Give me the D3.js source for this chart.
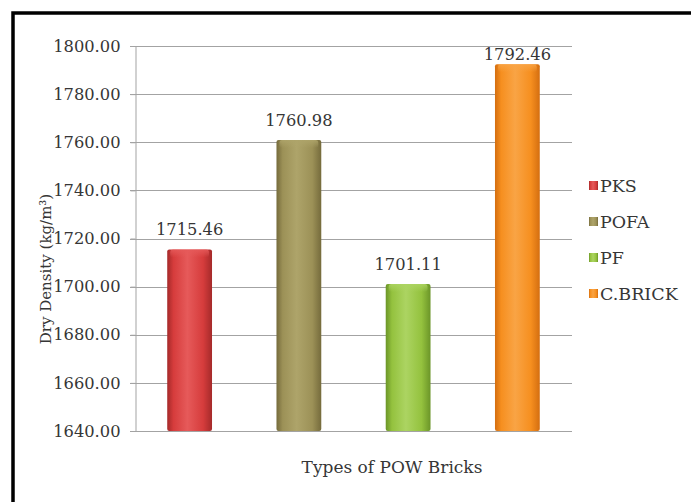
<!DOCTYPE html>
<html>
<head>
<meta charset="utf-8">
<script src="https://cdn.jsdelivr.net/npm/d3@7"></script>
<style>
  html, body { margin: 0; padding: 0; background: #fff; }
  svg { display: block; }
  text { font-family: "DejaVu Serif", "Liberation Serif", serif; fill: #363636; }
</style>
</head>
<body>
<svg id="chart" width="691" height="502"></svg>
<script>
// Dry density of the brick types
const categories = ["PKS", "POFA", "PF", "C.BRICK"];
const densities = [1715.46, 1760.98, 1701.11, 1792.46];
const yTicks = [1640, 1660, 1680, 1700, 1720, 1740, 1760, 1780, 1800];
const barColors = ["#d63c3c", "#9c9157", "#94c23e", "#f68f1f"];
const edgeColors = ["#a52a2a", "#756b3c", "#6b9528", "#d46e10"];
const lightColors = ["#e65a5a", "#aea46a", "#acd462", "#f9a445"];
const yTitle = "Dry Density (kg/m³)";
const xTitle = "Types of POW Bricks";

const svg = d3.select("#chart");
const W = 691, H = 502;

svg.append("rect").attr("width", W).attr("height", H).attr("fill", "#fff");

// outer frame
svg.append("rect")
  .attr("x", 13).attr("y", 13)
  .attr("width", 800).attr("height", 700)
  .attr("fill", "none").attr("stroke", "#000").attr("stroke-width", 3.5);

const plot = { left: 135, right: 572, top: 46, bottom: 431 };

const x = d3.scaleBand()
  .domain(categories)
  .range([plot.left, plot.right])
  .paddingInner(0.59)
  .paddingOuter(0.295);

const y = d3.scaleLinear()
  .domain([yTicks[0], yTicks[yTicks.length - 1]])
  .range([plot.bottom, plot.top]);

// bar gradients
const defs = svg.append("defs");
categories.forEach((c, i) => {
  const g = defs.append("linearGradient")
    .attr("id", "bar" + i).attr("x1", "0").attr("x2", "1").attr("y1", "0").attr("y2", "0");
  g.append("stop").attr("offset", "0%").attr("stop-color", edgeColors[i]);
  g.append("stop").attr("offset", "14%").attr("stop-color", barColors[i]);
  g.append("stop").attr("offset", "45%").attr("stop-color", lightColors[i]);
  g.append("stop").attr("offset", "80%").attr("stop-color", barColors[i]);
  g.append("stop").attr("offset", "100%").attr("stop-color", edgeColors[i]);
  const t = defs.append("linearGradient")
    .attr("id", "top" + i).attr("x1", "0").attr("x2", "0").attr("y1", "0").attr("y2", "1");
  t.append("stop").attr("offset", "0%").attr("stop-color", lightColors[i]).attr("stop-opacity", 0.9);
  t.append("stop").attr("offset", "100%").attr("stop-color", lightColors[i]).attr("stop-opacity", 0);
});

// gridlines
svg.append("g")
  .selectAll("line")
  .data(yTicks)
  .join("line")
  .attr("x1", plot.left - 5).attr("x2", plot.right)
  .attr("y1", d => Math.round(y(d)) + 0.5).attr("y2", d => Math.round(y(d)) + 0.5)
  .attr("stroke", "#a3a3a3").attr("stroke-width", 1);

// y axis
const yAxis = svg.append("g")
  .attr("transform", `translate(${plot.left + 0.5},0)`)
  .call(d3.axisLeft(y).tickValues(yTicks).tickFormat(d3.format(".2f")).tickSize(5).tickPadding(10));
yAxis.select(".domain").attr("stroke", "#a3a3a3");
yAxis.selectAll(".tick line").attr("stroke", "#a3a3a3");
yAxis.selectAll(".tick text")
  .attr("font-family", "DejaVu Serif")
  .attr("font-size", 16.3)
  .attr("fill", "#363636");

// bars
const bars = svg.append("g");
bars.selectAll("rect.bar")
  .data(densities)
  .join("rect")
  .attr("class", "bar")
  .attr("x", (d, i) => x(categories[i]))
  .attr("y", d => y(d))
  .attr("width", x.bandwidth())
  .attr("height", d => y(yTicks[0]) - y(d))
  .attr("rx", 2)
  .attr("fill", (d, i) => `url(#bar${i})`);
bars.selectAll("rect.top")
  .data(densities)
  .join("rect")
  .attr("class", "top")
  .attr("x", (d, i) => x(categories[i]) + 3)
  .attr("y", d => y(d))
  .attr("width", x.bandwidth() - 6)
  .attr("height", 8)
  .attr("rx", 3)
  .attr("fill", (d, i) => `url(#top${i})`);

// value labels
svg.append("g")
  .selectAll("text")
  .data(densities)
  .join("text")
  .attr("x", (d, i) => x(categories[i]) + x.bandwidth() / 2)
  .attr("y", d => Math.max(y(d) - 14, plot.top + 14))
  .attr("text-anchor", "middle")
  .attr("font-size", 16.3)
  .text(d => d3.format(".2f")(d));

// axis titles
svg.append("text")
  .attr("transform", "translate(51,269) rotate(-90)")
  .attr("text-anchor", "middle")
  .attr("font-size", 15)
  .text(yTitle);

svg.append("text")
  .attr("x", 392).attr("y", 473)
  .attr("text-anchor", "middle")
  .attr("font-size", 17)
  .text(xTitle);

// legend
const legend = svg.append("g").attr("transform", "translate(589,185)");
const item = legend.selectAll("g")
  .data(categories)
  .join("g")
  .attr("transform", (d, i) => `translate(0,${i * 36})`);
item.append("rect")
  .attr("x", 0).attr("y", -4).attr("width", 9).attr("height", 9)
  .attr("fill", (d, i) => `url(#bar${i})`);
item.append("text")
  .attr("x", 11).attr("y", 6.5)
  .attr("font-size", 17.5)
  .text(d => d);
</script>
</body>
</html>
